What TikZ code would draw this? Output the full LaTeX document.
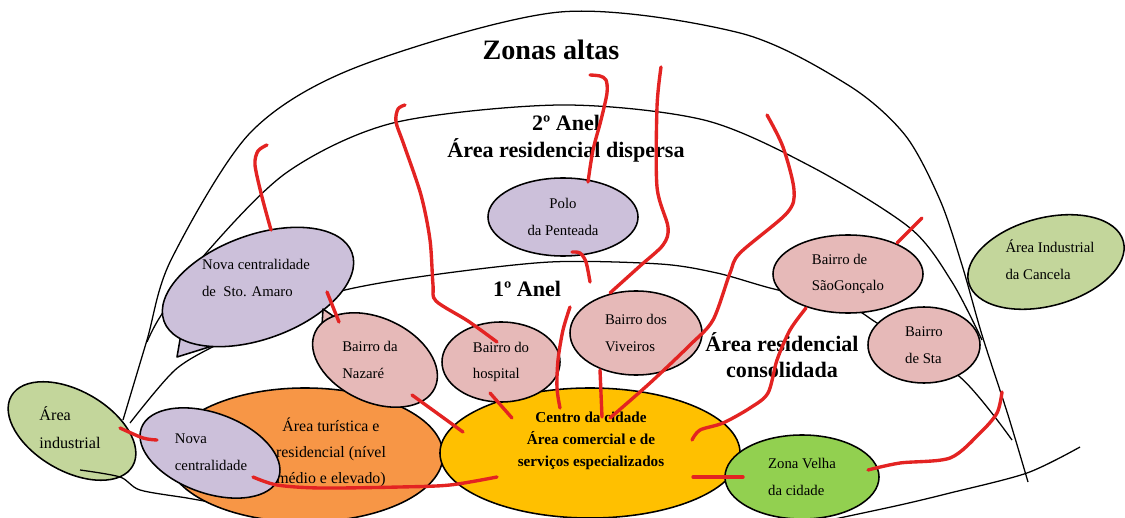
\documentclass[tikz,border=0pt]{standalone}
\usepackage{fontspec}
\setmainfont{Liberation Serif}
\usetikzlibrary{positioning, calc, shapes.geometric}
\definecolor{indgreen}{HTML}{C3D69B}
\definecolor{lilac}{HTML}{CCC0DA}
\definecolor{rose}{HTML}{E6B9B8}
\definecolor{tourorange}{HTML}{F79646}
\definecolor{gold}{HTML}{FFC000}
\definecolor{oldgreen}{HTML}{92D050}
\definecolor{inkred}{HTML}{E32322}
\tikzset{
  zone/.style={ellipse, draw, line width=1.1pt, inner sep=0pt, align=left, font=\fontsize{10.5}{19}\selectfont},
  industrial/.style={zone, fill=indgreen},
  centrality/.style={zone, fill=lilac},
  bairro/.style={zone, fill=rose},
  tourist/.style={zone, fill=tourorange},
  downtown/.style={zone, fill=gold},
  oldtown/.style={zone, fill=oldgreen},
  txt/.style={inner sep=0pt, align=left, font=\fontsize{10.5}{19}\selectfont},
  tail/.style={line width=1.1pt, line join=round},
  ring/.style={line width=0.9pt},
  link/.style={draw=inkred, line width=2.4pt, line cap=round, line join=round},
  heading/.style={align=center, font=\bfseries\fontsize{15.7}{19}\selectfont}
}

\begin{document}
\begin{tikzpicture}[x=0.025cm, y=-0.025cm]
\useasboundingbox (0,0) rectangle (1125,518);

% rings
\draw[ring] plot[smooth] coordinates {(123,420) (147,340) (171,260) (250,133) (357,67) (560,12) (740,33) (848,85) (905,135) (940,200) (962,265) (982,335) (1008,415) (1028,482)};
\draw[ring] plot[smooth] coordinates {(147,342) (160,317) (200,260) (286,173) (393,123) (560,105) (704,120) (812,167) (910,228) (952,282) (982,340)};
\draw[ring] plot[smooth] coordinates {(130,423) (175,370) (220,343) (270,318) (337,292) (425,276) (550,262) (660,264) (717,273) (770,288) (850,308) (877,323) (960,377) (1012,440)};
\draw[ring] plot[smooth] coordinates {(830,520) (900,505) (950,493) (1027,473) (1080,447)};

% zones
\node[industrial, minimum width=3.5cm, minimum height=2cm, rotate=-30] (ind) at (72,431) {};
\node[txt, font=\fontsize{11.5}{20}\selectfont] (indlbl) at (70,428) {Área\\industrial};
\draw[ring] plot[smooth] coordinates {(80,470) (120,477) (140,490) (187,498) (215,503)};

\node[tourist, minimum width=6.9cm, minimum height=3.35cm] (tour) at (305,455) {};
\node[txt, align=center, font=\fontsize{11.3}{18.5}\selectfont] (tourlbl) at (331,452) {Área turística e\\residencial (nível\\médio e elevado)};
\node[centrality, minimum width=3.65cm, minimum height=2cm, rotate=-20] (nova) at (210,453) {};
\node[txt] (novalbl) at (211,452) {Nova\\centralidade};

\node[downtown, minimum width=7.5cm, minimum height=3.25cm] (ctr) at (590,453) {};
\node[txt, align=center, font=\bfseries\fontsize{10.8}{15.6}\selectfont] (ctrlbl) at (591,441) {Centro da cidade\\Área comercial e de\\serviços especializados};
\node[oldtown, minimum width=3.85cm, minimum height=2.1cm] (velha) at (802,477) {Zona Velha\\da cidade};

\draw[tail, fill=lilac] (182,328) -- (177,357) -- (222,343);
\node[centrality, minimum width=5cm, minimum height=2.6cm, rotate=20] (sto) at (258,287) {};
\node[txt] (stolbl) at (256,278) {Nova centralidade\\de\ \ Sto. Amaro};

\draw[tail, fill=rose] (322,326) -- (323,309) -- (336,318);
\node[bairro, minimum width=3.3cm, minimum height=2.1cm, rotate=-25] (naz) at (375,360) {};
\node[txt] (nazlbl) at (370,360) {Bairro da\\Nazaré};
\node[bairro, minimum width=2.95cm, minimum height=2cm] (hosp) at (501,362) {Bairro do\\hospital};
\node[bairro, minimum width=3.3cm, minimum height=2.1cm] (viv) at (636,333) {Bairro dos\\Viveiros};
\node[centrality, minimum width=3.75cm, minimum height=1.95cm, align=center] (polo) at (563,217) {Polo\\da Penteada};
\node[bairro, minimum width=3.75cm, minimum height=1.95cm] (sgon) at (848,274) {Bairro de\\SãoGonçalo};
\node[bairro, minimum width=2.8cm, minimum height=1.9cm] (sta) at (924,345) {Bairro\\de Sta};
\node[industrial, minimum width=4cm, minimum height=2.2cm, rotate=15] (canc) at (1046,262) {};
\node[txt] (canclbl) at (1050,260) {Área Industrial\\da Cancela};

% ring names
\node[heading, font=\bfseries\fontsize{20}{24}\selectfont] (altas) at (551,50) {Zonas altas};
\node[heading] (anel2) at (566,139) {2º Anel\\Área residencial dispersa};
\node[heading] (anel1) at (527,289) {1º Anel};
\node[heading] (consol) at (782,355) {Área residencial\\consolidada};

% free ends of the red strokes
\coordinate (stoTop) at (267,145);
\coordinate (hospTop) at (405,105);
\coordinate (poloTop) at (590,75);
\coordinate (vivTop) at (661,67);
\coordinate (poloLow) at (590,282);
\coordinate (ctrTop) at (570,307);
\coordinate (ctrFar) at (767,115);
\coordinate (sgonTop) at (922,218);
\coordinate (velhaTop) at (1002,392);

% links
\draw[link] plot[smooth] coordinates {($(sto)+(13,-57)$) (262,197) (255,165) (258,151) (stoTop)};
\draw[link] ($(sto)+(69,5)$) -- ($(naz)+(-36,-38)$);
\draw[link] plot[smooth] coordinates {($(hosp)+(-4,-20)$) (468,321) (436,301) (433,285) (430,240) (421,195) (404,145) (396,122) (398,109) (hospTop)};
\draw[link] plot[smooth] coordinates {($(polo)+(25,-35)$) (593,150) (601,120) (607,93) (606,80) (600,76) (poloTop)};
\draw[link] plot[smooth] coordinates {(vivTop) (657,107) (657,187) (668,227) (663,245) (640,266) ($(viv)+(-26,-40)$)};
\draw[link] plot[smooth] coordinates {($(polo)+(9,35)$) (580,253) (586,262) (poloLow)};
\draw[link] plot[smooth] coordinates {($(ctr)+(-30,-45)$) (557,388) (558,360) (563,330) (ctrTop)};
\draw[link] plot[smooth] coordinates {(ctrFar) (783,147) (794,190) (787,213) (740,253) (730,273) (713,320) (690,345) (650,383) ($(ctr)+(20,-35)$)};
\draw[link] ($(viv)+(-36,37)$) -- ($(ctr)+(12,-36)$);
\draw[link] plot[smooth] coordinates {($(sgon)+(-42,34)$) (790,330) (777,360) (768,393) (750,408) (723,423) (700,430) ($(ctr)+(102,-13)$)};
\draw[link] ($(sgon)+(49,-31)$) -- (sgonTop);
\draw[link] plot[smooth] coordinates {($(velha)+(66,-7)$) (900,463) (950,458) (980,433) (997,413) (velhaTop)};
\draw[link] ($(ctr)+(103,24)$) -- ($(velha)+(-59,0)$);
\draw[link] plot[smooth] coordinates {($(nova)+(43,24)$) (277,485) (320,488) (400,487) (450,485) ($(ctr)+(-93,24)$)};
\draw[link] plot[smooth] coordinates {($(ind)+(48,-3)$) (143,438) ($(nova)+(-53,-13)$)};
\draw[link] ($(naz)+(37,35)$) -- ($(ctr)+(-127,-21)$);
\draw[link] ($(hosp)+(-11,31)$) -- ($(ctr)+(-78,-35)$);
\end{tikzpicture}
\end{document}
